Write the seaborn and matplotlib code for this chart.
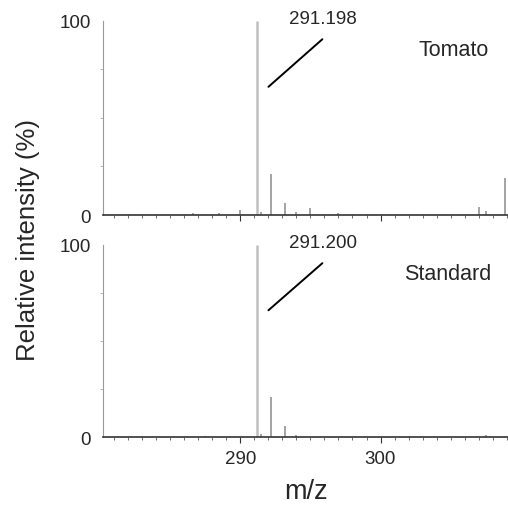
import numpy as np
import pandas as pd
import seaborn as sns
import matplotlib.pyplot as plt
from matplotlib.ticker import MultipleLocator, FixedLocator

# stick spectra (m/z, relative intensity %)
tomato_mz = [286.6, 288.5, 290.0, 291.198, 291.5, 292.2, 293.2, 294.0, 295.0, 297.0, 307.0, 307.5, 308.9]
tomato_int = [1.0, 1.0, 2.5, 100.0, 1.5, 21.0, 6.0, 1.5, 3.5, 1.0, 4.0, 2.0, 19.0]

standard_mz = [283.0, 287.5, 291.200, 291.5, 292.2, 293.2, 294.0, 302.0, 307.5]
standard_int = [0.8, 0.8, 100.0, 1.5, 21.0, 6.0, 1.0, 0.8, 1.0]

panel_names = ["Tomato", "Standard"]
peak_labels = ["291.198", "291.200"]
x_ticks = [290, 300]
y_ticks = [0, 100]

sns.set_style("ticks")
plt.rcParams["font.family"] = ["Liberation Sans", "DejaVu Sans"]

fig = plt.figure(figsize=(5.08, 5.06), dpi=100)
ax_top = fig.add_axes([0.203, 0.573, 0.797, 0.384])
ax_bot = fig.add_axes([0.203, 0.134, 0.797, 0.380])

spectra = [(tomato_mz, tomato_int), (standard_mz, standard_int)]
name_x = {"Tomato": 305.2, "Standard": 304.8}
for ax, (mz, inten), name, lab in zip([ax_top, ax_bot], spectra, panel_names, peak_labels):
    df = pd.DataFrame({"mz": mz, "intensity": inten})
    main = df["intensity"] >= 99
    ax.vlines(df.loc[main, "mz"], 0, df.loc[main, "intensity"], color="#c0c0c0", lw=1.8)
    ax.vlines(df.loc[~main, "mz"], 0, df.loc[~main, "intensity"], color="#8a8a8a", lw=1.1)

    ax.set_xlim(280.2, 309.1)
    ax.set_ylim(0, 100)
    ax.xaxis.set_major_locator(FixedLocator(x_ticks))
    ax.xaxis.set_minor_locator(MultipleLocator(1))
    ax.yaxis.set_major_locator(FixedLocator(y_ticks))
    ax.yaxis.set_minor_locator(FixedLocator([25, 50, 75]))
    ax.tick_params(axis="x", which="major", length=4, width=0.8, labelsize=13.5, pad=5, color="#333333")
    ax.tick_params(axis="x", which="minor", length=2.5, width=0.6, color="#555555")
    ax.tick_params(axis="y", which="major", length=0, labelsize=13.5, pad=9)
    ax.tick_params(axis="y", which="minor", length=2, width=0.6, color="#aaaaaa")
    ax.spines["bottom"].set_linewidth(1.2)
    ax.spines["bottom"].set_color("#333333")
    ax.spines["left"].set_linewidth(0.8)
    ax.spines["left"].set_color("#999999")
    sns.despine(ax=ax)

    ax.plot([292.0, 295.85], [66, 90.5], color="black", lw=1.4, clip_on=False)
    ax.text(295.9, 101, lab, ha="center", va="center", fontsize=13.5, clip_on=False)
    ax.text(name_x[name], 85, name, ha="center", va="center", fontsize=15.5)

ax_top.set_xticklabels([])
ax_bot.set_xlabel("m/z", fontsize=19.5, labelpad=8)
fig.text(0.055, 0.525, "Relative intensity (%)", rotation=90, ha="center", va="center", fontsize=18.5)

fig.savefig("out.png", dpi=100)
